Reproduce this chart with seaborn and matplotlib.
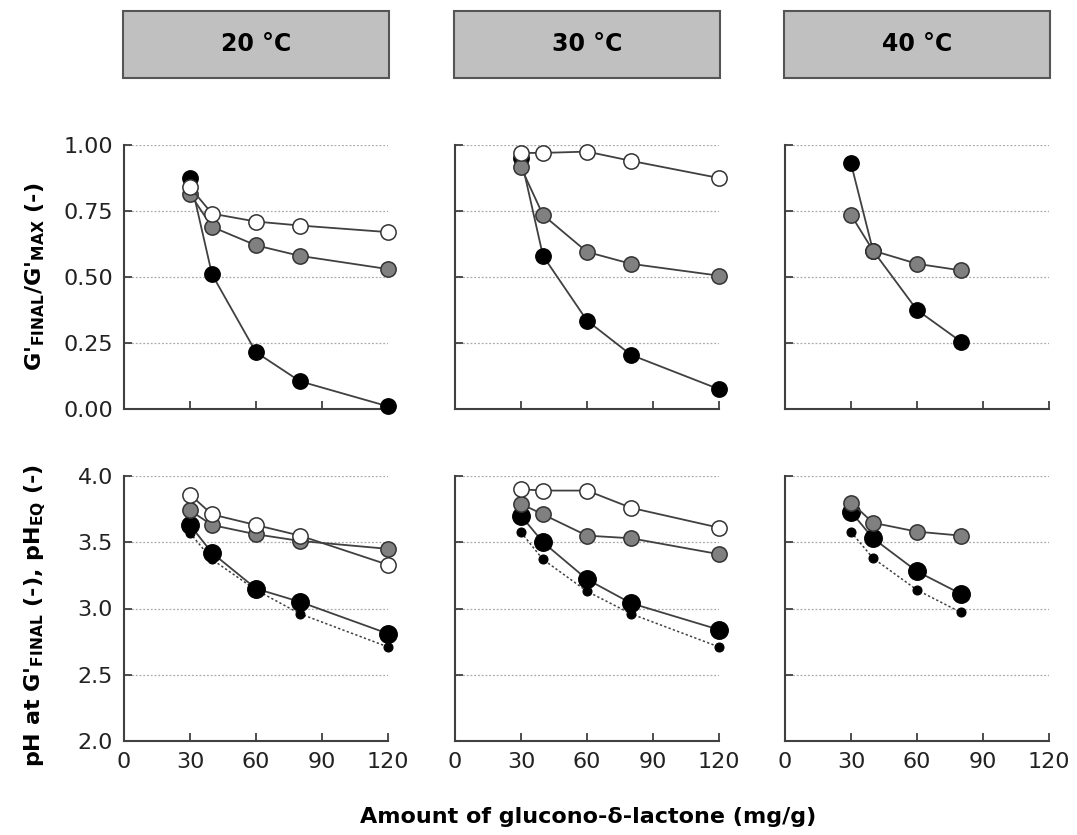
import matplotlib
matplotlib.use("Agg")
import matplotlib.pyplot as plt
from matplotlib.patches import Rectangle
import seaborn as sns

# doses (mg/g)
DOSE = [30, 40, 60, 80, 120]
DOSE_40C = [30, 40, 60, 80]
TEMPS = ["20 °C", "30 °C", "40 °C"]

# G'final / G'max
ratio_20_black = [0.875, 0.51, 0.215, 0.105, 0.01]
ratio_20_gray = [0.815, 0.69, 0.62, 0.58, 0.53]
ratio_20_white = [0.84, 0.74, 0.71, 0.695, 0.67]

ratio_30_black = [0.95, 0.58, 0.335, 0.205, 0.075]
ratio_30_gray = [0.915, 0.735, 0.595, 0.55, 0.505]
ratio_30_white = [0.97, 0.97, 0.975, 0.94, 0.875]

ratio_40_black = [0.93, 0.60, 0.375, 0.255]
ratio_40_gray = [0.735, 0.60, 0.55, 0.525]

# pH at G'final
ph_20_black = [3.63, 3.42, 3.15, 3.05, 2.81]
ph_20_gray = [3.74, 3.63, 3.56, 3.51, 3.45]
ph_20_white = [3.86, 3.71, 3.63, 3.55, 3.33]

ph_30_black = [3.70, 3.50, 3.22, 3.04, 2.84]
ph_30_gray = [3.79, 3.71, 3.55, 3.53, 3.41]
ph_30_white = [3.90, 3.89, 3.89, 3.76, 3.61]

ph_40_black = [3.73, 3.53, 3.28, 3.11]
ph_40_gray = [3.80, 3.647, 3.58, 3.55]

# pH equilibrium
ph_eq_20 = [3.57, 3.37, 3.14, 2.96, 2.71]
ph_eq_30 = [3.575, 3.37, 3.13, 2.96, 2.71]
ph_eq_40 = [3.577, 3.38, 3.14, 2.97]

LINE = "#404040"
EDGE = "#333333"
FILLS = {"black": "black", "gray": "#808080", "white": "white"}

W, H = 1077, 835
sns.set_style("white")
plt.rcParams["font.family"] = ["DejaVu Sans"]
plt.rcParams["mathtext.fontset"] = "dejavusans"
plt.rcParams["text.color"] = "black"

fig = plt.figure(figsize=(W / 100, H / 100), dpi=100)


def px_axes(x0, x1, y0, y1):
    return fig.add_axes([x0 / W, 1 - y1 / H, (x1 - x0) / W, (y1 - y0) / H])


def draw_series(ax, x, y, kind, ms, z):
    edge = "black" if kind == "black" else EDGE
    sns.lineplot(
        x=x, y=y, ax=ax, color=LINE, lw=1.3, marker="o", markersize=ms,
        markerfacecolor=FILLS[kind], markeredgecolor=edge,
        markeredgewidth=1.1, errorbar=None, zorder=z, clip_on=False,
    )


def style_axes(ax, ylim, yticks, fmt, show_y, show_x):
    ax.set_xlim(0, 120)
    ax.set_ylim(*ylim)
    ax.set_xticks([0, 30, 60, 90, 120])
    ax.set_yticks(yticks)
    for y in yticks[1:]:
        ax.axhline(y, color="#aaaaaa", lw=0.9, ls=(0, (1.5, 1.5)), zorder=0)
    for s in ["top", "right"]:
        ax.spines[s].set_visible(False)
    for s in ["left", "bottom"]:
        ax.spines[s].set_color(LINE)
        ax.spines[s].set_linewidth(1.5)
    ax.tick_params(direction="in", length=6, width=1.3, color=LINE,
                   bottom=True, left=True, labelsize=16,
                   labelcolor="#222222", pad=8)
    ax.set_yticklabels([fmt.format(v) for v in yticks] if show_y else [])
    if not show_x:
        ax.set_xticklabels([])
    ax.set_xlabel("")
    ax.set_ylabel("")


cols = [(124, 388), (455, 719), (785, 1049)]
top_rows = [
    [ratio_20_black, ratio_20_gray, ratio_20_white],
    [ratio_30_black, ratio_30_gray, ratio_30_white],
    [ratio_40_black, ratio_40_gray, None],
]
bottom_rows = [
    [ph_20_black, ph_20_gray, ph_20_white, ph_eq_20],
    [ph_30_black, ph_30_gray, ph_30_white, ph_eq_30],
    [ph_40_black, ph_40_gray, None, ph_eq_40],
]

for i, (x0, x1) in enumerate(cols):
    doses = DOSE if i < 2 else DOSE_40C

    ax = px_axes(x0, x1, 145, 409)
    black, gray, white = top_rows[i]
    draw_series(ax, doses, black, "black", 11, 3)
    draw_series(ax, doses, gray, "gray", 11, 4)
    if white is not None:
        draw_series(ax, doses, white, "white", 11, 5)
    style_axes(ax, (0, 1.0), [0, 0.25, 0.5, 0.75, 1.0], "{:.2f}", i == 0, False)
    ax.add_patch(Rectangle((-0.004, 1.254), 1.008, 0.254, transform=ax.transAxes,
                           facecolor="#c0c0c0", edgecolor="#555555", lw=1.5,
                           clip_on=False))
    ax.text(0.5, 1.381, TEMPS[i], transform=ax.transAxes, ha="center",
            va="center", fontsize=17, fontweight="bold", color="black")

    ax = px_axes(x0, x1, 476, 741)
    black, gray, white, eq = bottom_rows[i]
    sns.lineplot(x=doses, y=eq, ax=ax, color=LINE, lw=1.1, ls=(0, (1.5, 1.5)),
                 marker="o", markersize=6.5, markerfacecolor="black",
                 markeredgecolor="black", errorbar=None, zorder=2, clip_on=False)
    draw_series(ax, doses, black, "black", 12.5, 3)
    draw_series(ax, doses, gray, "gray", 11, 4)
    if white is not None:
        draw_series(ax, doses, white, "white", 11, 5)
    style_axes(ax, (2.0, 4.0), [2.0, 2.5, 3.0, 3.5, 4.0], "{:.1f}", i == 0, True)

fig.text(35 / W, 1 - 277 / H, r"G'$_{\mathbf{FINAL}}$/G'$_{\mathbf{MAX}}$ (-)",
         rotation=90, ha="center", va="center", fontsize=16, fontweight="bold")
fig.text(35 / W, 1 - 615 / H, r"pH at G'$_{\mathbf{FINAL}}$ (-), pH$_{\mathbf{EQ}}$ (-)",
         rotation=90, ha="center", va="center", fontsize=16, fontweight="bold")
fig.text(588 / W, 1 - 817 / H, "Amount of glucono-δ-lactone (mg/g)",
         ha="center", va="center", fontsize=16, fontweight="bold")

fig.savefig("out.png", dpi=100)
